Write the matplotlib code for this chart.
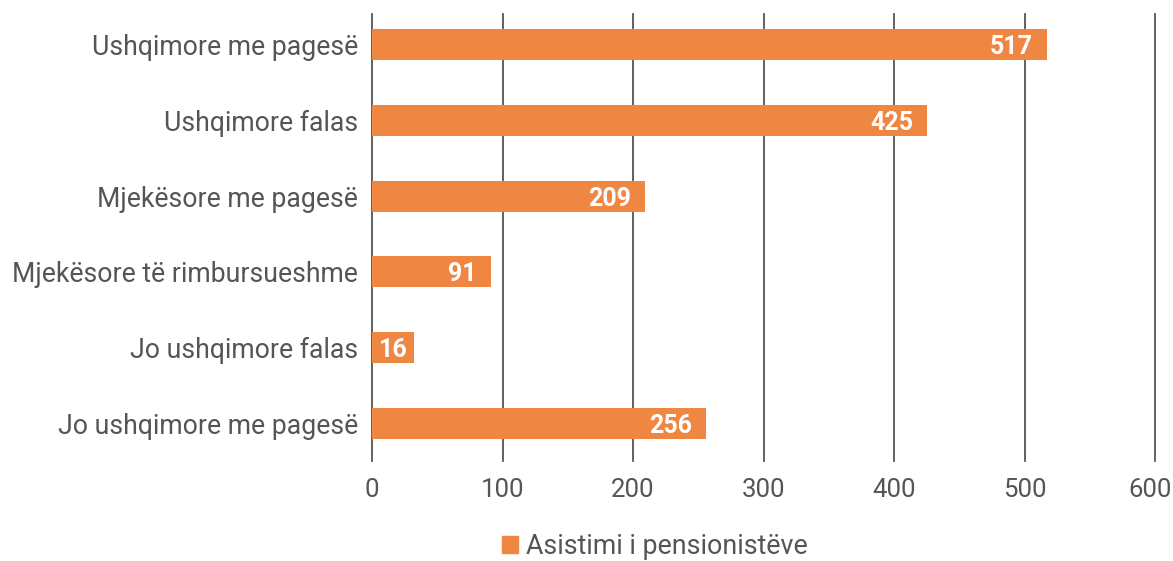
import matplotlib
matplotlib.use("Agg")
import matplotlib.pyplot as plt
import matplotlib.transforms as mtransforms
from matplotlib.patches import Patch

# --- data ---
categories = [
    "Ushqimore me pagesë",
    "Ushqimore falas",
    "Mjekësore me pagesë",
    "Mjekësore të rimbursueshme",
    "Jo ushqimore falas",
    "Jo ushqimore me pagesë",
]
values = [517, 425, 209, 91, 16, 256]
series_name = "Asistimi i pensionistëve"
x_ticks = [0, 100, 200, 300, 400, 500, 600]

bar_color = "#EF8641"
text_color = "#555555"
grid_color = "#555555"

plt.rcParams["font.family"] = ["Roboto", "DejaVu Sans"]

fig = plt.figure(figsize=(11.73, 5.61), dpi=100)
ax = fig.add_axes([372 / 1173, 100 / 561, 783 / 1173, 454 / 561])

# short bars get a minimum visible length so the label fits inside
min_len = 32
lengths = [max(v, min_len) for v in values]
ypos = list(range(len(categories)))

ax.barh(ypos, lengths, height=0.41, color=bar_color, zorder=3)

for y, v, l in zip(ypos, values, lengths):
    if v < min_len:
        ax.text(l / 2, y, str(v), ha="center", va="center_baseline",
                color="white", fontsize=18, fontweight="bold", zorder=4)
    else:
        ax.text(l - 10.5, y, str(v), ha="right", va="center_baseline",
                color="white", fontsize=18, fontweight="bold", zorder=4)

ax.set_ylim(len(categories) - 0.5, -0.5)
ax.set_xlim(0, 600)
ax.set_xticks(x_ticks)
ax.set_yticks(ypos)
ax.set_yticklabels(categories)

# vertical grid lines, starting a little below the top of the plot area
for xt in x_ticks:
    ax.axvline(xt, ymin=0, ymax=0.985, color=grid_color, linewidth=1.3,
               zorder=0, clip_on=False)
for s in ax.spines.values():
    s.set_visible(False)
ax.tick_params(axis="x", length=0, labelsize=18.5, labelcolor=text_color, pad=12)
ax.tick_params(axis="y", length=0, labelsize=19.2, labelcolor=text_color, pad=10)

# nudge the last x label inward so it stays inside the figure
last = ax.get_xticklabels()[-1]
last.set_transform(last.get_transform() +
                   mtransforms.ScaledTranslation(-5 / 100, 0, fig.dpi_scale_trans))

fig.legend(handles=[Patch(color=bar_color, label=series_name)],
           loc="center", bbox_to_anchor=(655 / 1173, 1 - 546 / 561),
           frameon=False, fontsize=19.3, labelcolor=text_color,
           handlelength=0.6, handleheight=0.6, handletextpad=0.3)

fig.savefig("out.png", dpi=100)
